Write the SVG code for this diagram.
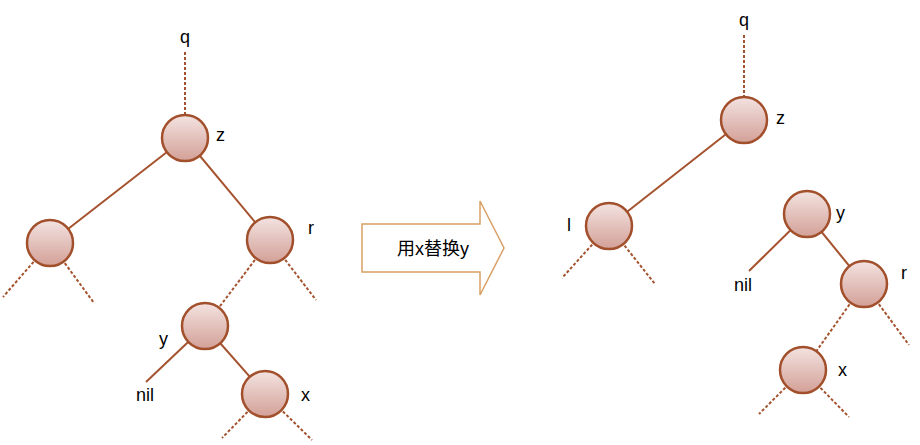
<svg xmlns="http://www.w3.org/2000/svg" width="920" height="445" viewBox="0 0 920 445">
<defs>
<linearGradient id="g" x1="0" y1="0" x2="0" y2="1">
<stop offset="0" stop-color="#f3e3e1"/>
<stop offset="1" stop-color="#d3a097"/>
</linearGradient>
<style>
.n{fill:url(#g);stroke:#a24f2c;stroke-width:2.5}
.s{stroke:#a5532f;stroke-width:2;fill:none}
.d{stroke:#a5532f;stroke-width:2;fill:none;stroke-dasharray:3 2}
.t{font-family:"Liberation Sans",Arial,sans-serif;font-size:18px;fill:#000}
.c{font-family:"Liberation Sans","Noto Sans CJK SC",sans-serif;font-size:18px;fill:#000}
</style>
</defs>
<rect width="920" height="445" fill="#fff"/>
<g id="connectors">
<line class="d" x1="185" y1="52" x2="185" y2="115"/>
<line class="s" x1="185" y1="138" x2="50" y2="243"/>
<line class="s" x1="185" y1="138" x2="270" y2="240"/>
<line class="d" x1="50" y1="243" x2="3" y2="297"/>
<line class="d" x1="50" y1="243" x2="94" y2="303"/>
<line class="d" x1="270" y1="240" x2="205" y2="326"/>
<line class="d" x1="270" y1="240" x2="316" y2="300"/>
<line class="s" x1="205" y1="326" x2="146" y2="382"/>
<line class="s" x1="205" y1="326" x2="265" y2="394"/>
<line class="d" x1="265" y1="394" x2="222" y2="438"/>
<line class="d" x1="265" y1="394" x2="312" y2="440"/>
<line class="d" x1="744" y1="35" x2="744" y2="97"/>
<line class="s" x1="744" y1="120" x2="609" y2="226"/>
<line class="d" x1="609" y1="226" x2="562" y2="278"/>
<line class="d" x1="609" y1="226" x2="655" y2="284"/>
<line class="s" x1="807" y1="214" x2="749" y2="271"/>
<line class="s" x1="807" y1="214" x2="864" y2="284"/>
<line class="d" x1="864" y1="284" x2="803" y2="370"/>
<line class="d" x1="864" y1="284" x2="909" y2="345"/>
<line class="d" x1="803" y1="370" x2="759" y2="414"/>
<line class="d" x1="803" y1="370" x2="849" y2="417"/>
</g>
<g id="arrow">
<polygon points="362,224 480,224 480,201 504,248 480,295 480,272 362,272" fill="#fff" stroke="#d9a066" stroke-width="1.5"/>
<text class="c" x="433" y="255" text-anchor="middle">用x替换y</text>
</g>
<g id="L-q"><text class="t" x="185" y="43" text-anchor="middle">q</text></g>
<g id="L-z"><circle class="n" cx="185" cy="138" r="23"/><text class="t" x="216" y="141">z</text></g>
<g id="L-left"><circle class="n" cx="50" cy="243" r="23"/></g>
<g id="L-r"><circle class="n" cx="270" cy="240" r="23"/><text class="t" x="308" y="234">r</text></g>
<g id="L-y"><circle class="n" cx="205" cy="326" r="23"/><text class="t" x="159" y="345">y</text></g>
<g id="L-nil"><text class="t" x="136" y="401">nil</text></g>
<g id="L-x"><circle class="n" cx="265" cy="394" r="23"/><text class="t" x="301" y="401">x</text></g>
<g id="R-q"><text class="t" x="744" y="26" text-anchor="middle">q</text></g>
<g id="R-z"><circle class="n" cx="744" cy="120" r="23"/><text class="t" x="776" y="124">z</text></g>
<g id="R-l"><circle class="n" cx="609" cy="226" r="23"/><text class="t" x="567" y="231">l</text></g>
<g id="R-y"><circle class="n" cx="807" cy="214" r="23"/><text class="t" x="836" y="219">y</text></g>
<g id="R-nil"><text class="t" x="734" y="291">nil</text></g>
<g id="R-r"><circle class="n" cx="864" cy="284" r="23"/><text class="t" x="901" y="279">r</text></g>
<g id="R-x"><circle class="n" cx="803" cy="370" r="23"/><text class="t" x="838" y="376">x</text></g>
</svg>
